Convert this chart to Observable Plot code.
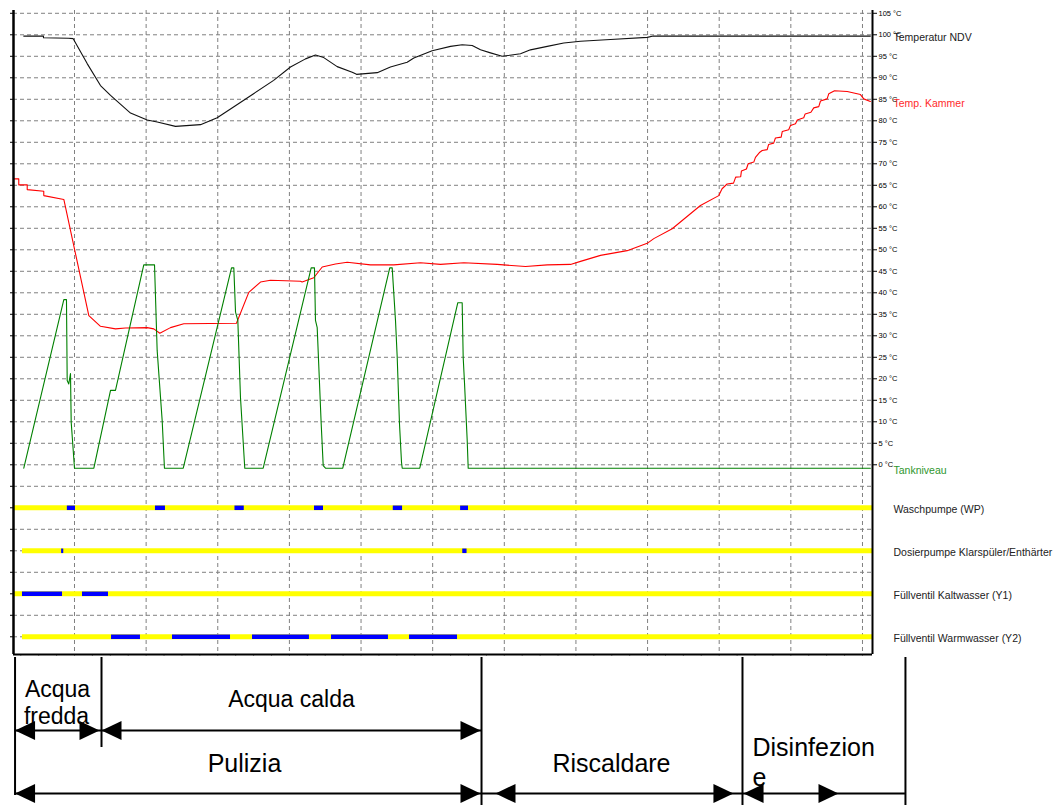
<!DOCTYPE html>
<html><head><meta charset="utf-8">
<script src="https://cdn.jsdelivr.net/npm/d3@7"></script>
<script src="https://cdn.jsdelivr.net/npm/@observablehq/plot@0.6"></script>
<style>
body{margin:0;background:#fff;}
#chart{width:1060px;height:805px;}
#chart svg{display:block;}
</style></head><body><div id="chart"></div>
<script>
// ---------- DATA (time in grid units, values in °C) ----------
const ndvTime = [0.292,0.567,0.567,0.916,0.982,1.177,1.363,1.503,1.782,2.015,2.155,2.41,2.759,2.992,3.22,3.5,3.78,4.015,4.225,4.364,4.48,4.667,4.877,4.937,5.226,5.41,5.644,5.737,5.993,6.249,6.412,6.552,6.668,6.807,6.97,7.226,7.365,7.6,7.83,8.064,8.482,8.995,9.08,12.11];
const ndvTemp = [99.7,99.7,99.3,99.2,99.1,93.3,88.2,85.9,81.8,80.2,79.7,78.7,79.1,80.7,83.2,86.3,89.4,92.5,94.4,95.3,94.7,92.6,91.3,90.8,91.2,92.5,93.6,94.6,96.3,97.3,97.7,97.5,96.5,95.8,95.0,95.6,96.5,97.3,98.1,98.5,98.9,99.4,99.7,99.7];

const kamTime = [0.153,0.222,0.222,0.34,0.34,0.571,0.571,0.851,
  1.2,1.363,1.572,1.712,2.015,2.107,2.191,2.34,2.526,
  3.261,3.433,3.596,3.736,4.155,4.178,
  4.34,4.458,4.643,4.807,5.132,5.457,5.83,
  6.109,6.435,6.9,7.296,7.6,7.924,8.064,
  8.343,8.715,8.995,9.087,9.344,9.738,9.994,
  10.04,10.11,10.2,10.23,10.3,10.31,10.38,10.404,10.483,10.506,
  10.567,10.6,10.67,10.69,10.76,10.785,10.865,10.88,10.97,10.995,
  11.065,11.09,11.18,11.2,11.28,11.32,11.39,11.414,11.507,11.53,
  11.61,11.787,11.972,12.018,12.11];
const kamTemp = [66.5,66.5,65.1,65.1,64.0,63.6,62.6,61.7,
  34.7,32.2,31.6,31.8,31.9,31.6,30.6,31.9,32.8,
  32.9,40.1,42.5,42.9,42.7,42.5,
  43.5,46.0,46.7,47.1,46.5,46.5,47.0,
  46.6,47.0,46.6,46.1,46.5,46.6,47.3,
  48.7,49.8,51.5,52.6,54.9,60.3,62.6,
  64.2,65.3,65.5,66.9,67.0,68.3,68.8,70.0,70.4,71.5,
  72.7,73.1,73.3,74.5,74.8,76.0,76.2,77.5,77.9,78.9,
  79.3,80.2,80.7,81.6,82.0,83.0,83.3,84.6,85.1,86.3,
  87.0,86.8,86.1,85.1,84.5];

const tankTime = [0.292,0.851,0.888,0.898,0.92,0.944,0.954,1.0,
  1.27,1.503,1.572,1.967,2.117,2.154,2.224,2.256,
  2.518,3.192,3.224,3.248,3.28,3.317,3.377,
  3.634,4.304,4.35,4.364,4.388,4.444,4.472,4.504,
  4.745,5.401,5.435,5.481,5.505,5.537,5.565,5.575,
  5.82,6.351,6.412,6.426,6.444,6.482,6.496,12.11];
const tankLevel = [-0.8,38.4,38.4,19.6,18.8,21.2,9.9,-0.8,
  -0.8,17.3,17.3,46.5,46.5,26.6,10.3,-0.8,
  -0.8,45.8,45.8,35.5,33.6,15.7,-0.8,
  -0.8,45.8,45.8,33.6,31.9,9.5,-0.2,-0.8,
  -0.8,45.8,45.8,33.6,25.0,9.5,0.6,-0.8,
  -0.8,37.7,37.7,25.0,19.2,5.7,-0.8,-0.8];

const trackNames = ["Waschpumpe (WP)", "Dosierpumpe Klarspüler/Enthärter", "Füllventil Kaltwasser (Y1)", "Füllventil Warmwasser (Y2)"];
const trackLevels = [-10, -20, -30, -40];
const trackStarts = [0.1485, 0.274, 0.1485, 0.274];
const waschOn = [[0.9,1.014],[2.13,2.27],[3.24,3.37],[4.35,4.476],[5.45,5.58],[6.39,6.5]];
const dosierOn = [[0.82,0.85],[6.42,6.48]];
const kaltOn = [[0.274,0.833],[1.112,1.475]];
const warmOn = [[1.517,1.921],[2.368,3.178],[3.485,4.28],[4.588,5.383],[5.677,6.347]];

const seriesNames = ["Temperatur NDV", "Temp. Kammer", "Tankniveau"];
const tempTicks = d3.range(0, 106, 5);

// phases (annotation)
const phaseNames = ["Acqua fredda", "Acqua calda", "Pulizia", "Riscaldare", "Disinfezione"];
const phaseFrom = [0.17, 1.377, 0.17, 6.682, 10.325];
const phaseTo = [1.377, 6.682, 6.682, 10.325, 12.6];
const tipLeft = [0.17, 1.377, 0.17, 6.877, 10.34];
const tipRight = [1.349, 6.668, 6.668, 10.199, 11.665];
const phaseRow = [1, 1, 2, 2, 2];
const boundaryTimes = [0.17, 1.377, 6.682, 10.325, 12.6];
const phaseTextLines = ["Acqua", "fredda", "Acqua calda", "Pulizia", "Riscaldare", "Disinfezion", "e"];
const phaseTextTime = [0.763, 0.749, 4.029, 3.373, 8.496, 10.465, 10.465];

// ---------- LAYOUT ----------
const X0 = 0.1485, X1 = 12.14;
const Y0 = -44.12, Y1 = 105.65;
const fontFam = "'Liberation Sans', Arial, Helvetica, sans-serif";
const seriesColors = ["#222", "#ff2a2a", "#2e962e"];
const boundaryLen = [138, 90, 148, 148, 148];
const rowY = {1: 73, 2: 136};
const textY = [32.6, 59.6, 42.3, 106.7, 106.7, 90, 120];
const textSize = [23, 23, 23, 25, 25, 25, 25];
const textAnchorStart = [false, false, false, false, false, true, true];

const pts = (ts, vs) => ts.slice(0, Math.min(ts.length, vs.length)).map((t, i) => ({t, v: vs[i]}));
const ndv = pts(ndvTime, ndvTemp);
const kam = pts(kamTime, kamTemp);
const tank = pts(tankTime, tankLevel);
const tracks = trackNames.map((name, i) => ({name, level: trackLevels[i], start: trackStarts[i], end: X1}));
const onSegs = [waschOn, dosierOn, kaltOn, warmOn].flatMap((segs, i) => segs.map(([a, b]) => ({level: trackLevels[i], start: a, end: b})));
const labels = [
  {name: seriesNames[0], v: ndvTemp[ndvTemp.length - 1], color: seriesColors[0]},
  {name: seriesNames[1], v: kamTemp[kamTemp.length - 1], color: seriesColors[1]},
  {name: seriesNames[2], v: tankLevel[tankLevel.length - 1], color: seriesColors[2]},
  ...trackNames.map((n, i) => ({name: n, v: trackLevels[i], color: "#222"}))
];

const main = Plot.plot({
  width: 1060, height: 657, marginTop: 10, marginBottom: 3, marginLeft: 13, marginRight: 188,
  x: {domain: [X0, X1], label: null},
  y: {domain: [Y0, Y1], label: null},
  color: {type: "identity"},
  style: {fontFamily: fontFam, background: "#fff", overflow: "visible"},
  marks: [
    Plot.ruleY(d3.range(-40, 106, 5), {stroke: "#808080", strokeDasharray: "4,3", strokeWidth: 1}),
    Plot.ruleX(d3.range(1, 13), {stroke: "#808080", strokeDasharray: "4,3", strokeWidth: 1}),
    Plot.line(ndv, {x: "t", y: "v", stroke: "#111", strokeWidth: 1.1}),
    Plot.line(kam, {x: "t", y: "v", stroke: "#ff0000", strokeWidth: 1.1}),
    Plot.line(tank, {x: "t", y: "v", stroke: "#008000", strokeWidth: 1.1}),
    Plot.ruleY(tracks, {y: "level", x1: "start", x2: "end", stroke: "#ffff00", strokeWidth: 5}),
    Plot.ruleY(onSegs, {y: "level", x1: "start", x2: "end", stroke: "#0000ff", strokeWidth: 4.5}),
    Plot.axisY({anchor: "right", ticks: tempTicks, tickFormat: d => `${d} °C`, tickSize: 4, tickPadding: 2, fontSize: 7.5, fill: "#000", label: null}),
    Plot.axisY({anchor: "left", ticks: d3.range(-40, 106, 5), tickSize: 3, tickFormat: () => "", label: null}),
    Plot.axisX({anchor: "bottom", ticks: d3.range(0.25, 12.1, 0.25), tickSize: 2, tickFormat: () => "", stroke: "#999", label: null}),
    Plot.ruleX([X0], {stroke: "#000", strokeWidth: 2.5}),
    Plot.ruleX([X1], {stroke: "#000", strokeWidth: 2}),
    Plot.ruleY([Y0], {stroke: "#000", strokeWidth: 2}),
    Plot.text(labels, {x: () => X1, y: "v", text: "name", fill: "color", textAnchor: "start", dx: 21, dy: 2, fontSize: 10.5})
  ]
});

const arrows = phaseNames.map((name, i) => ({name, from: phaseFrom[i], to: phaseTo[i], tipL: tipLeft[i], tipR: tipRight[i], row: rowY[phaseRow[i]]}));
const bounds = boundaryTimes.map((t, i) => ({t, len: boundaryLen[i]}));
const ptexts = phaseTextLines.map((text, i) => ({text, t: phaseTextTime[i], y: textY[i], fs: textSize[i], start: textAnchorStart[i]}));
const L = 20, H = 9.5;
const headRight = {draw(c) { c.moveTo(0, 0); c.lineTo(-L, -H); c.lineTo(-L, H); c.closePath(); }};
const headLeft = {draw(c) { c.moveTo(0, 0); c.lineTo(L, -H); c.lineTo(L, H); c.closePath(); }};

const ann = Plot.plot({
  width: 1060, height: 148, marginTop: 0, marginBottom: 0, marginLeft: 13, marginRight: 188,
  x: {domain: [X0, X1], axis: null},
  y: {domain: [0, 148], range: [0, 148], axis: null},
  style: {fontFamily: fontFam, background: "#fff", overflow: "visible"},
  marks: [
    Plot.ruleX(bounds, {x: "t", y1: 0, y2: "len", stroke: "#000", strokeWidth: 2}),
    Plot.ruleY(arrows, {y: "row", x1: "from", x2: "to", stroke: "#000", strokeWidth: 2}),
    Plot.dot(arrows, {x: "tipL", y: "row", symbol: headLeft, fill: "#000", stroke: "none"}),
    Plot.dot(arrows, {x: "tipR", y: "row", symbol: headRight, fill: "#000", stroke: "none"}),
    Plot.text(ptexts.filter(d => !d.start && d.fs === 23), {x: "t", y: "y", text: "text", fontSize: 23, fill: "#000", textAnchor: "middle"}),
    Plot.text(ptexts.filter(d => !d.start && d.fs === 25), {x: "t", y: "y", text: "text", fontSize: 25, fill: "#000", textAnchor: "middle"}),
    Plot.text(ptexts.filter(d => d.start), {x: "t", y: "y", text: "text", fontSize: 25, fill: "#000", textAnchor: "start"})
  ]
});

document.getElementById("chart").append(main, ann);
</script></body></html>
